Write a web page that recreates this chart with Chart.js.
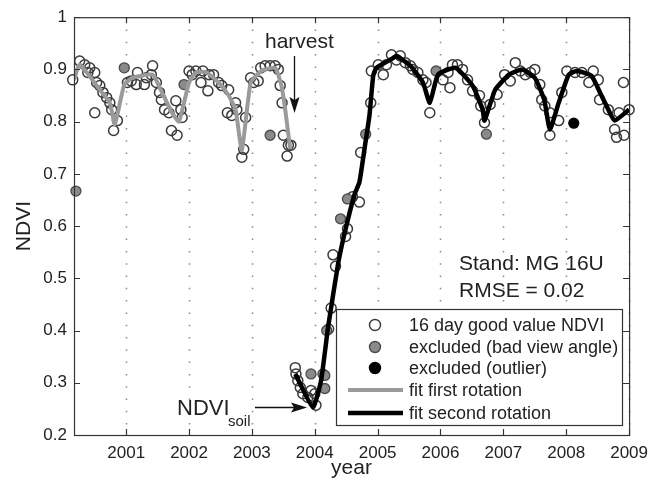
<!DOCTYPE html>
<html>
<head>
<meta charset="utf-8">
<script src="https://cdn.jsdelivr.net/npm/chart.js@4"></script>
<style>
  html, body { margin: 0; padding: 0; background: #fff; }
  #wrap { width: 656px; height: 485px; }
</style>
</head>
<body>
<div id="wrap"><canvas id="ndvi" width="656" height="485"></canvas></div>
<script>
// tick labels
var yearTicks = [2001, 2002, 2003, 2004, 2005, 2006, 2007, 2008, 2009];
var ndviTicks = [0.2, 0.3, 0.4, 0.5, 0.6, 0.7, 0.8, 0.9, 1];

// 16 day good value NDVI (open circles)
var goodYears = [
    2000.15, 2000.26, 2000.34, 2000.39, 2000.42, 2000.50, 2000.53, 2000.50, 2000.58, 2000.63, 2000.69, 2000.74, 2000.77, 2000.80, 2000.86,
    2001.02, 2001.08, 2001.18, 2001.16, 2001.29, 2001.32, 2001.42, 2001.40, 2001.48, 2001.53, 2001.56, 2001.61, 2001.68, 2001.72, 2001.81, 2001.79, 2001.89, 2001.87,
    2002.00, 2002.05, 2002.11, 2002.19, 2002.22, 2002.30, 2002.32, 2002.39, 2002.47, 2002.52, 2002.63, 2002.61, 2002.68, 2002.74, 2002.76, 2002.87, 2002.84, 2002.90,
    2002.98, 2003.03, 2003.10, 2003.14, 2003.21, 2003.29, 2003.37, 2003.42, 2003.45, 2003.48, 2003.50, 2003.58, 2003.56, 2003.62,
    2003.69, 2003.70, 2003.73, 2003.77, 2003.81, 2003.89, 2003.94, 2004.00, 2004.02,
    2004.22, 2004.26, 2004.29, 2004.33, 2004.49, 2004.52, 2004.60, 2004.71, 2004.73, 2004.89,
    2004.90, 2005.01, 2005.09, 2005.14, 2005.22, 2005.30, 2005.36, 2005.44, 2005.52, 2005.56, 2005.64, 2005.72, 2005.77, 2005.83,
    2006.04, 2006.12, 2006.15, 2006.19, 2006.27, 2006.35, 2006.43, 2006.51, 2006.62, 2006.64, 2006.70, 2006.79,
    2006.90, 2007.02, 2007.11, 2007.19, 2007.27, 2007.35, 2007.43, 2007.50, 2007.58, 2007.61, 2007.66, 2007.74, 2007.74, 2007.88,
    2007.93, 2008.01, 2008.14, 2008.25, 2008.36, 2008.43, 2008.51, 2008.53, 2008.67, 2008.77, 2008.80, 2008.84, 2008.91, 2008.92, 2009.00
];
var goodNdvi = [
    0.880, 0.916, 0.909, 0.894, 0.903, 0.894, 0.875, 0.817, 0.869, 0.856, 0.846, 0.836, 0.823, 0.783, 0.802,
    0.875, 0.878, 0.894, 0.871, 0.871, 0.884, 0.907, 0.890, 0.875, 0.856, 0.842, 0.823, 0.817, 0.783, 0.774, 0.840, 0.808, 0.823,
    0.897, 0.890, 0.897, 0.875, 0.897, 0.859, 0.890, 0.890, 0.875, 0.869, 0.861, 0.817, 0.812, 0.836, 0.823, 0.747, 0.732, 0.808,
    0.884, 0.875, 0.878, 0.903, 0.907, 0.907, 0.907, 0.900, 0.869, 0.836, 0.774, 0.755, 0.734, 0.755,
    0.329, 0.317, 0.304, 0.291, 0.279, 0.272, 0.285, 0.279, 0.257,
    0.403, 0.443, 0.545, 0.523, 0.580, 0.595, 0.656, 0.646, 0.741, 0.836,
    0.897, 0.909, 0.890, 0.909, 0.928, 0.918, 0.926, 0.913, 0.907, 0.900, 0.894, 0.880, 0.875, 0.817,
    0.880, 0.894, 0.865, 0.909, 0.909, 0.900, 0.880, 0.859, 0.850, 0.830, 0.798, 0.833,
    0.852, 0.890, 0.878, 0.913, 0.897, 0.890, 0.894, 0.900, 0.871, 0.842, 0.830, 0.817, 0.774, 0.802,
    0.856, 0.897, 0.894, 0.894, 0.875, 0.897, 0.880, 0.842, 0.823, 0.785, 0.770, 0.817, 0.875, 0.774, 0.823
];

// excluded (bad view angle)
var viewYears = [2000.20, 2000.97, 2001.92, 2003.29, 2003.94, 2004.13, 2004.16, 2004.16, 2004.19, 2004.41, 2004.52, 2004.81, 2005.93, 2006.73];
var viewNdvi = [0.667, 0.903, 0.871, 0.774, 0.317, 0.317, 0.314, 0.289, 0.400, 0.614, 0.652, 0.776, 0.897, 0.776];

// excluded (outlier)
var outlierYears = [2008.12];
var outlierNdvi = [0.797];

// fit first rotation
var fit1Years = [2000.17, 2000.26, 2000.58, 2000.74, 2000.82, 2000.97, 2001.10, 2001.42, 2001.57, 2001.73, 2001.84, 2002.00, 2002.11, 2002.27,
    2002.47, 2002.63, 2002.74, 2002.84, 2002.98, 2003.15, 2003.37, 2003.47, 2003.53, 2003.61];
var fit1Ndvi = [0.880, 0.909, 0.861, 0.836, 0.795, 0.871, 0.884, 0.890, 0.856, 0.817, 0.800, 0.875, 0.894, 0.895,
    0.875, 0.850, 0.823, 0.745, 0.875, 0.897, 0.903, 0.869, 0.823, 0.747];

// fit second rotation
var fit2Years = [2003.69, 2003.97, 2004.10, 2004.21, 2004.37, 2004.48, 2004.63, 2004.71, 2004.79, 2004.87, 2004.93, 2004.98, 2005.25, 2005.30,
    2005.52, 2005.72, 2005.83, 2005.96, 2006.24, 2006.51, 2006.67, 2006.70, 2006.87, 2007.09, 2007.30, 2007.50, 2007.65, 2007.74,
    2007.88, 2008.04, 2008.17, 2008.40, 2008.56, 2008.67, 2008.77, 2009.00];
var fit2Ndvi = [0.317, 0.253, 0.304, 0.405, 0.527, 0.589, 0.660, 0.684, 0.747, 0.812, 0.888, 0.903, 0.922, 0.926,
    0.907, 0.875, 0.836, 0.890, 0.903, 0.869, 0.823, 0.802, 0.861, 0.890, 0.900, 0.884, 0.842, 0.785,
    0.836, 0.890, 0.897, 0.888, 0.850, 0.823, 0.802, 0.823];

function pairs(xs, ys) {
    return xs.map(function (v, i) { return { x: v, y: ys[i] }; });
}

var FONT = "'Liberation Sans', Arial, sans-serif";
var INK = "#222";

// box, inward ticks, dotted year grid, text, legend
var matlabFrame = {
    id: "matlabFrame",
    beforeDatasetsDraw: function (chart) {
        var ctx = chart.ctx, a = chart.chartArea, x = chart.scales.x;
        ctx.save();
        ctx.strokeStyle = "#8a8a8a";
        ctx.lineWidth = 1.5;
        ctx.setLineDash([1.5, 10.8]);
        yearTicks.forEach(function (v) {
            var px = Math.round(x.getPixelForValue(v)) + 0.5;
            ctx.beginPath();
            ctx.moveTo(px, a.top);
            ctx.lineTo(px, a.bottom);
            ctx.stroke();
        });
        ctx.restore();
    },
    afterDatasetsDraw: function (chart) {
        var ctx = chart.ctx, a = chart.chartArea, x = chart.scales.x, y = chart.scales.y;
        ctx.save();
        ctx.strokeStyle = "#333";
        ctx.lineWidth = 1.2;
        ctx.strokeRect(a.left + 0.5, a.top + 0.5, a.right - a.left, a.bottom - a.top);
        ctx.beginPath();
        yearTicks.forEach(function (v) {
            var px = Math.round(x.getPixelForValue(v)) + 0.5;
            ctx.moveTo(px, a.bottom); ctx.lineTo(px, a.bottom - 6);
            ctx.moveTo(px, a.top); ctx.lineTo(px, a.top + 6);
        });
        ndviTicks.forEach(function (v) {
            var py = Math.round(y.getPixelForValue(v)) + 0.5;
            ctx.moveTo(a.left, py); ctx.lineTo(a.left + 6, py);
            ctx.moveTo(a.right, py); ctx.lineTo(a.right - 6, py);
        });
        ctx.stroke();

        // annotations
        ctx.fillStyle = INK;
        ctx.textBaseline = "alphabetic";
        ctx.textAlign = "left";
        ctx.font = "21px " + FONT;
        ctx.fillText("harvest", 265, 48);
        ctx.fillText("Stand: MG 16U", 459, 270);
        ctx.fillText("RMSE = 0.02", 459, 297);
        ctx.font = "22px " + FONT;
        ctx.fillText("NDVI", 177, 415);
        ctx.font = "15px " + FONT;
        ctx.fillText("soil", 228, 426);

        ctx.strokeStyle = "#111";
        ctx.fillStyle = "#111";
        ctx.lineWidth = 1.3;
        ctx.beginPath();
        ctx.moveTo(294.5, 56); ctx.lineTo(294.5, 100);
        ctx.moveTo(255, 407.5); ctx.lineTo(294, 407.5);
        ctx.stroke();
        ctx.beginPath();
        ctx.moveTo(294.5, 113); ctx.lineTo(289.5, 97); ctx.lineTo(294.5, 100); ctx.lineTo(299.5, 97); ctx.closePath();
        ctx.fill();
        ctx.beginPath();
        ctx.moveTo(307, 407.5); ctx.lineTo(291, 402.5); ctx.lineTo(294, 407.5); ctx.lineTo(291, 412.5); ctx.closePath();
        ctx.fill();

        // legend
        var lx = 336, ly = 309, lw = 286, lh = 116;
        ctx.fillStyle = "#fff";
        ctx.fillRect(lx, ly, lw, lh);
        ctx.strokeStyle = "#333";
        ctx.lineWidth = 1.2;
        ctx.strokeRect(lx + 0.5, ly + 0.5, lw, lh);
        var rows = [325, 347, 368, 390, 413];
        ctx.font = "18px " + FONT;
        chart.data.datasets.forEach(function (ds, i) {
            var cy = rows[i];
            if (ds.type === "line") {
                ctx.strokeStyle = ds.borderColor;
                ctx.lineWidth = ds.borderWidth;
                ctx.beginPath();
                ctx.moveTo(348, cy); ctx.lineTo(403, cy);
                ctx.stroke();
            } else {
                ctx.beginPath();
                ctx.arc(375, cy, 5.5, 0, Math.PI * 2);
                ctx.fillStyle = ds.legendFill;
                ctx.fill();
                ctx.strokeStyle = ds.pointBorderColor;
                ctx.lineWidth = 1.4;
                ctx.stroke();
            }
            ctx.fillStyle = INK;
            ctx.textBaseline = "middle";
            ctx.fillText(ds.label, 409, cy + 1);
        });
        ctx.restore();
    }
};

var ctx = document.getElementById("ndvi").getContext("2d");

new Chart(ctx, {
    type: "scatter",
    data: {
        datasets: [
            {
                label: "16 day good value NDVI",
                data: pairs(goodYears, goodNdvi),
                pointRadius: 5,
                pointBorderWidth: 1.5,
                pointBorderColor: "#3a3a3a",
                pointBackgroundColor: "rgba(255,255,255,0)",
                legendFill: "#fff",
                clip: false,
                order: 2
            },
            {
                label: "excluded (bad view angle)",
                data: pairs(viewYears, viewNdvi),
                pointRadius: 5,
                pointBorderWidth: 1.3,
                pointBorderColor: "#4a4a4a",
                pointBackgroundColor: "#8a8a8a",
                legendFill: "#8a8a8a",
                clip: false,
                order: 1
            },
            {
                label: "excluded (outlier)",
                data: pairs(outlierYears, outlierNdvi),
                pointRadius: 5,
                pointBorderWidth: 1.2,
                pointBorderColor: "#000",
                pointBackgroundColor: "#000",
                legendFill: "#000",
                clip: false,
                order: 1
            },
            {
                type: "line",
                label: "fit first rotation",
                data: pairs(fit1Years, fit1Ndvi),
                borderColor: "#9a9a9a",
                borderWidth: 4,
                pointRadius: 0,
                tension: 0.15,
                showLine: true,
                order: 0
            },
            {
                type: "line",
                label: "fit second rotation",
                data: pairs(fit2Years, fit2Ndvi),
                borderColor: "#000",
                borderWidth: 4.5,
                pointRadius: 0,
                tension: 0.15,
                showLine: true,
                order: 0
            }
        ]
    },
    options: {
        responsive: false,
        animation: false,
        layout: { padding: { left: 0, right: 22, top: 14, bottom: 0 } },
        plugins: {
            legend: { display: false },
            tooltip: { enabled: false }
        },
        scales: {
            x: {
                type: "linear",
                min: 2000.17,
                max: 2009,
                grid: { display: false, drawTicks: false },
                border: { display: false },
                afterBuildTicks: function (scale) {
                    scale.ticks = yearTicks.map(function (v) { return { value: v }; });
                },
                afterFit: function (scale) { scale.height = 50; },
                ticks: {
                    color: INK,
                    font: { family: FONT, size: 17 },
                    padding: 8,
                    maxRotation: 0,
                    callback: function (v) { return String(v); }
                },
                title: {
                    display: true,
                    text: "year",
                    color: INK,
                    font: { family: FONT, size: 21 },
                    padding: { top: 0, bottom: 4 }
                }
            },
            y: {
                min: 0.2,
                max: 1,
                grid: { display: false, drawTicks: false },
                border: { display: false },
                afterBuildTicks: function (scale) {
                    scale.ticks = ndviTicks.map(function (v) { return { value: v }; });
                },
                afterFit: function (scale) { scale.width = 74; },
                ticks: {
                    color: INK,
                    font: { family: FONT, size: 17 },
                    padding: 7,
                    callback: function (v) { return v === 1 ? "1" : v.toFixed(1); }
                },
                title: {
                    display: true,
                    text: "NDVI",
                    color: INK,
                    font: { family: FONT, size: 21 },
                    padding: { top: 12, bottom: 0 }
                }
            }
        }
    },
    plugins: [matlabFrame]
});
</script>
</body>
</html>
